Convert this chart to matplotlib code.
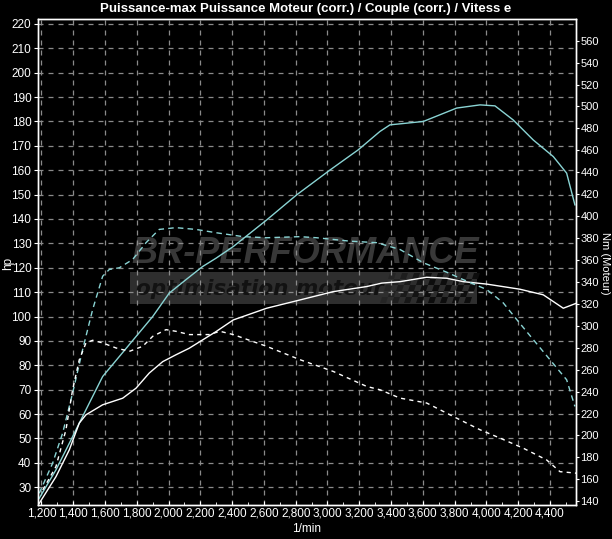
import matplotlib
matplotlib.use('Agg')
import matplotlib.pyplot as plt
from matplotlib.patches import Rectangle, Polygon
from matplotlib.ticker import FuncFormatter, MultipleLocator

# Dyno sheet: power (hp, left axis) and torque (Nm, right axis)
# for the tuned engine (cyan) and the stock engine (white).

rpm_pw_tuned = [1186, 1291, 1375, 1438, 1501, 1585, 1690, 1795, 1900, 2004, 2109, 2214,
                2298, 2407, 2617, 2806, 3016, 3194, 3330, 3393, 3603, 3813, 3960, 4054,
                4169, 4295, 4421, 4505, 4557]
hp_tuned = [25.5, 37.1, 48.0, 56.3, 64.5, 75.4, 83.6, 91.8, 100.0, 109.6, 115.1, 120.5,
            123.9, 128.7, 139.6, 149.9, 160.1, 168.4, 175.9, 178.6, 180.0, 185.5, 186.8, 186.4,
            180.6, 172.4, 165.6, 158.8, 145.8]

rpm_pw_stock = [1186, 1291, 1375, 1438, 1480, 1585, 1711, 1795, 1878, 1963, 2046, 2130,
                2214, 2298, 2407, 2617, 2827, 3036, 3247, 3341, 3456, 3624, 3750, 3855,
                4002, 4211, 4358, 4484, 4568]
hp_stock = [23.4, 34.3, 45.3, 56.3, 59.7, 63.8, 66.5, 70.6, 76.8, 81.5, 84.3, 87.0,
            90.4, 93.8, 98.6, 103.4, 106.8, 110.2, 112.3, 113.7, 114.3, 116.1, 115.7, 114.3,
            113.3, 111.2, 108.9, 103.4, 105.5]

rpm_tq_tuned = [1186, 1270, 1333, 1396, 1459, 1522, 1585, 1627, 1690, 1774, 1858, 1941,
                2046, 2172, 2298, 2470, 2617, 2827, 2932, 3142, 3310, 3456, 3603, 3750,
                3876, 4002, 4106, 4191, 4295, 4400, 4505, 4557]
nm_tuned = [147.3, 174.7, 202.1, 238.7, 278.3, 314.8, 345.2, 351.4, 352.9, 360.5, 375.8, 387.9,
            389.5, 387.9, 384.9, 381.3, 380.3, 381.3, 380.3, 377.2, 375.8, 369.6, 357.5, 348.9,
            340.7, 333.1, 320.9, 305.7, 287.4, 269.1, 250.8, 226.5]

rpm_tq_stock = [1208, 1291, 1354, 1396, 1438, 1480, 1522, 1585, 1669, 1753, 1837, 1900,
                1984, 2046, 2130, 2256, 2323, 2407, 2617, 2827, 3036, 3247, 3330, 3456,
                3624, 3792, 3960, 4086, 4232, 4379, 4463, 4568]
nm_stock = [150.3, 171.6, 205.2, 241.7, 269.1, 284.4, 286.8, 284.4, 279.8, 276.7, 281.3, 290.4,
            296.5, 295.0, 292.0, 292.0, 295.0, 292.0, 281.3, 269.1, 258.4, 244.7, 241.7, 234.1,
            229.6, 217.3, 205.2, 197.6, 188.4, 177.7, 167.0, 165.6]

cyan = '#8ad4d4'
white = '#ffffff'
W, H = 612, 539

plt.rcParams['font.family'] = ['Liberation Sans Narrow', 'Liberation Sans', 'DejaVu Sans']

fig = plt.figure(figsize=(W / 100, H / 100), dpi=100, facecolor='black')
ax = fig.add_axes([38.3 / W, 1 - 505 / H, (575.7 - 38.3) / W, (505 - 19.3) / H])
ax.set_facecolor('black')
ax2 = ax.twinx()

def fx(x):
    return x / W

def fy(y):
    return 1 - y / H

# watermark
tf = fig.transFigure
ax.add_patch(Rectangle((fx(130), fy(303.5)), fx(477) - fx(130), fy(271.5) - fy(303.5),
                       transform=tf, facecolor='#2e2e2e', edgecolor='none', zorder=0.8))
# checkered flag
cell = 6.0
for r in range(5):
    for c in range(15):
        if (r + c) % 2:
            continue
        x0 = 388 + c * cell - r * 2.0
        y0 = 273 + r * cell
        fade = min(1.0, 0.25 + c / 9)
        ax.add_patch(Polygon([(fx(x0 + 2.0), fy(y0)), (fx(x0 + cell + 2.0), fy(y0)),
                              (fx(x0 + cell), fy(y0 + cell)), (fx(x0), fy(y0 + cell))],
                             closed=True, transform=tf, facecolor='#0d0d0d', alpha=fade,
                             edgecolor='none', zorder=0.85))
ax.text(fx(305), fy(253), 'BR-PERFORMANCE', transform=tf, ha='center', va='center',
        fontsize=26, fontweight='bold', style='italic', color='#383838',
        family=['Liberation Sans', 'DejaVu Sans'], zorder=0.9)
ax.text(fx(136), fy(289), 'optimisation moteur', transform=tf, ha='left', va='center',
        fontsize=15.5, fontweight='bold', style='italic', color='#121212',
        family=['DejaVu Sans'], zorder=0.9)

# curves
ax.plot(rpm_pw_tuned, hp_tuned, color=cyan, lw=1.0, zorder=3)
ax.plot(rpm_pw_stock, hp_stock, color=white, lw=1.0, zorder=3)
ax2.plot(rpm_tq_tuned, nm_tuned, color=cyan, lw=1.0, dashes=(4, 3))
ax2.plot(rpm_tq_stock, nm_stock, color=white, lw=1.0, dashes=(3, 3))

ax.set_xlim(1180, 4562)
ax.set_ylim(22.7, 221.9)
ax2.set_ylim(136.6, 579.5)

ax.xaxis.set_major_locator(MultipleLocator(200))
ax.xaxis.set_minor_locator(MultipleLocator(100))
ax.xaxis.set_major_formatter(FuncFormatter(lambda v, p: f'{int(v):,}'))
ax.yaxis.set_major_locator(MultipleLocator(10))
ax2.yaxis.set_major_locator(MultipleLocator(20))

ax.set_axisbelow('line')
ax.grid(True, which='major', color='#8a8a8a', lw=0.9, dashes=(4, 4))

for a in (ax, ax2):
    for s in a.spines.values():
        s.set_color(white)
        s.set_linewidth(1.0)
    a.tick_params(colors=white, labelsize=8.5, length=3, width=0.8, pad=2)
ax2.tick_params(labelsize=8, length=2.5, pad=1)
ax.tick_params(axis='x', which='minor', length=2, colors=white, direction='in')
ax.tick_params(axis='x', which='major', direction='in', length=3)

fig.text(fx(8), fy(263), 'hp', rotation=90, ha='center', va='center', color=white, fontsize=8.5)
fig.text(fx(605), fy(263), 'Nm (Moteur)', rotation=270, ha='center', va='center',
         color=white, fontsize=8)
ax.set_xlabel('1/min', color=white, fontsize=8.5, labelpad=2)

fig.text(0.5, fy(9), 'Puissance-max Puissance Moteur (corr.) / Couple (corr.) / Vitess e',
         ha='center', va='center', color=white, fontsize=9.5, fontweight='bold')

fig.savefig('out.png', dpi=100, facecolor='black')
